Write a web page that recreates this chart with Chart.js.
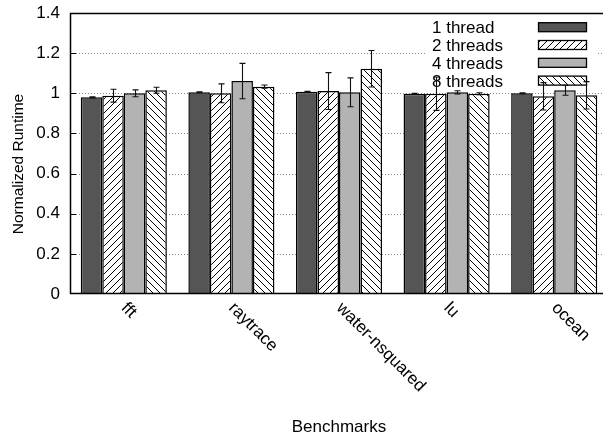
<!DOCTYPE html>
<html>
<head>
<meta charset="utf-8">
<script src="https://cdn.jsdelivr.net/npm/chart.js@4.4.1/dist/chart.umd.min.js"></script>
<style>
  html, body { margin: 0; padding: 0; background: #fff; overflow: hidden; }
  canvas { display: block; }
</style>
</head>
<body>
<canvas id="chart" width="610" height="436"></canvas>
<script>
// data
const categories = ["fft", "raytrace", "water-nsquared", "lu", "ocean"];
const seriesLabels = ["1 thread", "2 threads", "4 threads", "8 threads"];

const thread1 = [0.980, 1.005, 1.008, 0.998, 1.000];
const thread1Err = [0.003, 0.002, 0.002, 0.002, 0.002];
const thread2 = [0.988, 1.000, 1.011, 0.998, 0.985];
const thread2Err = [0.032, 0.047, 0.092, 0.083, 0.068];
const thread4 = [1.000, 1.061, 1.005, 1.005, 1.015];
const thread4Err = [0.017, 0.088, 0.072, 0.008, 0.025];
const thread8 = [1.015, 1.033, 1.122, 0.998, 0.990];
const thread8Err = [0.015, 0.008, 0.091, 0.005, 0.068];

const yMin = 0;
const yMax = 1.4;
const yStep = 0.2;

const FONT = "'Liberation Sans', Arial, Helvetica, sans-serif";

// hatch fills like gnuplot patterns
function hatch(dir) {
  const s = 7;
  const c = document.createElement("canvas");
  c.width = c.height = s;
  const g = c.getContext("2d");
  g.fillStyle = "#fff";
  g.fillRect(0, 0, s, s);
  g.strokeStyle = "#000";
  g.lineWidth = 1;
  g.beginPath();
  if (dir > 0) {
    g.moveTo(0, s); g.lineTo(s, 0);
    g.moveTo(-1, 1); g.lineTo(1, -1);
    g.moveTo(s - 1, s + 1); g.lineTo(s + 1, s - 1);
  } else {
    g.moveTo(0, 0); g.lineTo(s, s);
    g.moveTo(-1, s - 1); g.lineTo(1, s + 1);
    g.moveTo(s - 1, -1); g.lineTo(s + 1, 1);
  }
  g.stroke();
  return g.createPattern(c, "repeat");
}

const fills = ["#555555", hatch(1), "#b3b3b3", hatch(-1)];
const values = [thread1, thread2, thread4, thread8];
const errors = [thread1Err, thread2Err, thread4Err, thread8Err];

const decorPlugin = {
  id: "decor",
  beforeDatasetsDraw(chart) {
    const { ctx, chartArea: a, scales: { y } } = chart;
    ctx.save();
    // dotted grid
    ctx.strokeStyle = "#8a8a8a";
    ctx.lineWidth = 1;
    ctx.setLineDash([1, 2]);
    for (let v = yMin + yStep; v < yMax - 1e-9; v += yStep) {
      const py = Math.round(y.getPixelForValue(v)) + 0.5;
      ctx.beginPath();
      ctx.moveTo(a.left, py);
      ctx.lineTo(a.right, py);
      ctx.stroke();
    }
    ctx.setLineDash([]);

    // key with opaque background
    ctx.fillStyle = "#fff";
    ctx.fillRect(427, 14, 170, 74);
    ctx.font = "17px " + FONT;
    ctx.textAlign = "left";
    ctx.textBaseline = "alphabetic";
    seriesLabels.forEach((lab, k) => {
      const cy = 27.2 + k * 17.8;
      ctx.fillStyle = "#000";
      ctx.fillText(lab, 432, cy + 6);
      ctx.fillStyle = fills[k];
      ctx.fillRect(538.5, cy - 4.5, 48, 9);
      ctx.strokeStyle = "#000";
      ctx.lineWidth = 1.3;
      ctx.strokeRect(538.5, cy - 4.5, 48, 9);
    });
    ctx.restore();
  },
  afterDatasetsDraw(chart) {
    const { ctx, chartArea: a, scales: { y } } = chart;
    ctx.save();
    // error bars
    ctx.strokeStyle = "#111";
    ctx.lineWidth = 1.1;
    values.forEach((vals, d) => {
      const meta = chart.getDatasetMeta(d);
      meta.data.forEach((bar, i) => {
        const x = Math.round(bar.x) + 0.5;
        const top = y.getPixelForValue(vals[i] + errors[d][i]);
        const bot = y.getPixelForValue(vals[i] - errors[d][i]);
        ctx.beginPath();
        ctx.moveTo(x, top); ctx.lineTo(x, bot);
        ctx.moveTo(x - 3, top); ctx.lineTo(x + 3, top);
        ctx.moveTo(x - 3, bot); ctx.lineTo(x + 3, bot);
        ctx.stroke();
      });
    });

    // frame and tick marks
    ctx.strokeStyle = "#000";
    ctx.lineWidth = 1.5;
    ctx.beginPath();
    ctx.moveTo(a.right + 5, a.top + 0.5);
    ctx.lineTo(a.left + 0.5, a.top + 0.5);
    ctx.lineTo(a.left + 0.5, a.bottom - 0.5);
    ctx.lineTo(a.right + 5, a.bottom - 0.5);
    ctx.stroke();
    ctx.lineWidth = 1;
    for (let v = yMin + yStep; v < yMax - 1e-9; v += yStep) {
      const py = Math.round(y.getPixelForValue(v)) + 0.5;
      ctx.beginPath();
      ctx.moveTo(a.left, py);
      ctx.lineTo(a.left + 6, py);
      ctx.stroke();
    }
    ctx.restore();
  },
  afterDraw(chart) {
    const { ctx, chartArea: a, scales: { x } } = chart;
    ctx.save();
    ctx.fillStyle = "#000";
    ctx.font = "17px " + FONT;
    ctx.textAlign = "left";
    ctx.textBaseline = "middle";
    categories.forEach((c, i) => {
      ctx.save();
      ctx.translate(x.getPixelForValue(i), 305.5);
      ctx.rotate(Math.PI / 4);
      ctx.fillText(c, 0, 0);
      ctx.restore();
    });
    ctx.textAlign = "center";
    ctx.textBaseline = "alphabetic";
    ctx.fillText("Benchmarks", (a.left + a.right) / 2, 432);
    ctx.save();
    ctx.font = "15.5px " + FONT;
    ctx.translate(19, 164);
    ctx.rotate(-Math.PI / 2);
    ctx.textBaseline = "middle";
    ctx.fillText("Normalized Runtime", 0, 0);
    ctx.restore();
    ctx.restore();
  }
};

new Chart(document.getElementById("chart"), {
  type: "bar",
  data: {
    labels: categories,
    datasets: seriesLabels.map((lab, k) => ({
      label: lab,
      data: values[k],
      backgroundColor: fills[k],
      borderColor: "#000",
      borderWidth: 1.5,
      categoryPercentage: 0.8,
      barPercentage: 1.0,
    })),
  },
  options: {
    responsive: false,
    animation: false,
    devicePixelRatio: 1,
    layout: { padding: { top: 13, right: 2, left: 0, bottom: 0 } },
    plugins: {
      legend: { display: false },
      tooltip: { enabled: false },
    },
    scales: {
      x: {
        grid: { display: false, drawTicks: false },
        border: { display: false },
        ticks: { display: false },
        afterFit: (s) => {
          s.height = 142;
          s.paddingLeft = 0;
          s.paddingRight = 0;
        },
      },
      y: {
        min: yMin,
        max: yMax,
        grid: { display: false, drawTicks: false },
        border: { display: false },
        ticks: {
          stepSize: yStep,
          padding: 10,
          color: "#000",
          font: { family: FONT, size: 17 },
          callback: (v) => String(+v.toFixed(1)),
        },
        afterFit: (s) => {
          s.width = 70;
          s.paddingTop = 0;
          s.paddingBottom = 0;
        },
      },
    },
  },
  plugins: [decorPlugin],
});
</script>
</body>
</html>
